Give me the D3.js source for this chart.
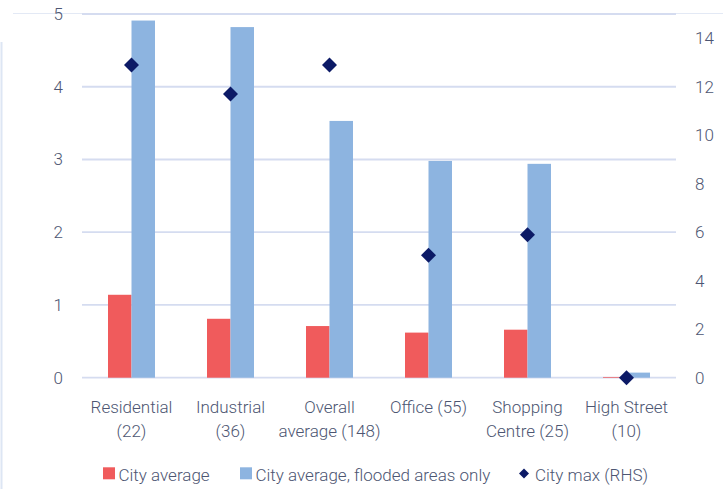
<!DOCTYPE html>
<html>
<head>
<meta charset="utf-8">
<script src="https://cdn.jsdelivr.net/npm/d3@7"></script>
<style>
  html, body { margin: 0; padding: 0; background: #ffffff; }
  svg { display: block; }
  text { font-family: Roboto, "Noto Sans", sans-serif; font-weight: 300; fill: #4d5672; }
</style>
</head>
<body>
<svg id="chart" width="723" height="489"></svg>
<script>
// Property types with sample counts
const categories = [
  ["Residential", "(22)"],
  ["Industrial", "(36)"],
  ["Overall", "average (148)"],
  ["Office (55)"],
  ["Shopping", "Centre (25)"],
  ["High Street", "(10)"]
];
const categoryKeys = categories.map(c => c.join(" "));

// Left axis series
const cityAverage = [1.14, 0.81, 0.71, 0.62, 0.66, 0.01];
const cityAverageFlooded = [4.91, 4.82, 3.53, 2.98, 2.94, 0.07];
// Right axis series (RHS)
const cityMax = [12.9, 11.7, 12.9, 5.05, 5.9, 0.0];

const leftTicks = [0, 1, 2, 3, 4, 5];
const rightTicks = [0, 2, 4, 6, 8, 10, 12, 14];

const legendItems = [
  { label: "City average", kind: "rect", color: "#f05b5c" },
  { label: "City average, flooded areas only", kind: "rect", color: "#8db4e0" },
  { label: "City max (RHS)", kind: "diamond", color: "#0c1a66" }
];

const FONT = "Roboto, \"Noto Sans\", sans-serif";
const FS = 17;

const svg = d3.select("#chart");
const plot = { left: 82, right: 676, top: 14, bottom: 377.7 };

const x = d3.scaleBand().domain(categoryKeys).range([plot.left, plot.right]).padding(0);
const yL = d3.scaleLinear().domain([0, 5]).range([plot.bottom, plot.top]);
const yR = d3.scaleLinear().domain([0, 15]).range([plot.bottom, plot.top]);
const barW = 23.5;

// frame lines
svg.append("line").attr("x1", 13).attr("x2", 723).attr("y1", 13.5).attr("y2", 13.5)
  .attr("stroke", "#e3e9f5").attr("stroke-width", 1);
svg.append("line").attr("x1", 1.5).attr("x2", 1.5).attr("y1", 42).attr("y2", 489)
  .attr("stroke", "#dde6f4").attr("stroke-width", 2);

// gridlines
svg.append("g").selectAll("line").data(leftTicks).join("line")
  .attr("x1", plot.left).attr("x2", plot.right)
  .attr("y1", d => yL(d)).attr("y2", d => yL(d))
  .attr("stroke", "#d5dcf0").attr("stroke-width", 1.8);

// left axis labels
const leftAxis = d3.axisLeft(yL).tickValues(leftTicks).tickSize(0).tickPadding(0).tickFormat(d3.format("d"));
const gL = svg.append("g").attr("transform", "translate(63,0)").call(leftAxis);
gL.select(".domain").remove();
gL.selectAll("text").attr("font-size", FS).attr("fill", "#4d5672").attr("font-family", FONT).attr("font-weight", 300);

// right axis labels
const rightAxis = d3.axisRight(yR).tickValues(rightTicks).tickSize(0).tickPadding(0).tickFormat(d3.format("d"));
const gR = svg.append("g").attr("transform", "translate(695,0)").call(rightAxis);
gR.select(".domain").remove();
gR.selectAll("text").attr("font-size", FS).attr("fill", "#4d5672").attr("font-family", FONT).attr("font-weight", 300);

// bars
const center = k => x(k) + x.bandwidth() / 2;
svg.append("g").selectAll("rect").data(cityAverage).join("rect")
  .attr("x", (d, i) => center(categoryKeys[i]) - barW)
  .attr("y", d => yL(d))
  .attr("width", barW)
  .attr("height", d => yL(0) - yL(d))
  .attr("fill", "#f05b5c");
svg.append("g").selectAll("rect").data(cityAverageFlooded).join("rect")
  .attr("x", (d, i) => center(categoryKeys[i]))
  .attr("y", d => yL(d))
  .attr("width", barW)
  .attr("height", d => yL(0) - yL(d))
  .attr("fill", "#8db4e0");

// diamonds (RHS)
const diamond = d3.symbol().type(d3.symbolSquare).size(112);
svg.append("g").selectAll("path").data(cityMax).join("path")
  .attr("d", diamond)
  .attr("transform", (d, i) => `translate(${center(categoryKeys[i])},${yR(d)}) rotate(45)`)
  .attr("fill", "#0c1a66");

// category labels
const catG = svg.append("g");
categories.forEach((lines, i) => {
  const t = catG.append("text")
    .attr("x", center(categoryKeys[i]))
    .attr("y", 412.5)
    .attr("text-anchor", "middle")
    .attr("font-size", FS);
  lines.forEach((ln, j) => {
    t.append("tspan").attr("x", center(categoryKeys[i])).attr("dy", j === 0 ? 0 : 24).text(ln);
  });
});

// legend
const legendX = [103, 240, 519];
const lg = svg.append("g");
legendItems.forEach((item, i) => {
  const g = lg.append("g").attr("transform", `translate(${legendX[i]},0)`);
  if (item.kind === "rect") {
    g.append("rect").attr("x", 0).attr("y", 467.3).attr("width", 12).attr("height", 12).attr("fill", item.color);
    g.append("text").attr("x", 15.5).attr("y", 480.5).attr("font-size", FS).text(item.label);
  } else {
    g.append("path").attr("d", d3.symbol().type(d3.symbolSquare).size(50))
      .attr("transform", "translate(5,473.5) rotate(45)").attr("fill", item.color);
    g.append("text").attr("x", 16).attr("y", 480.5).attr("font-size", FS).text(item.label);
  }
});
</script>
</body>
</html>
